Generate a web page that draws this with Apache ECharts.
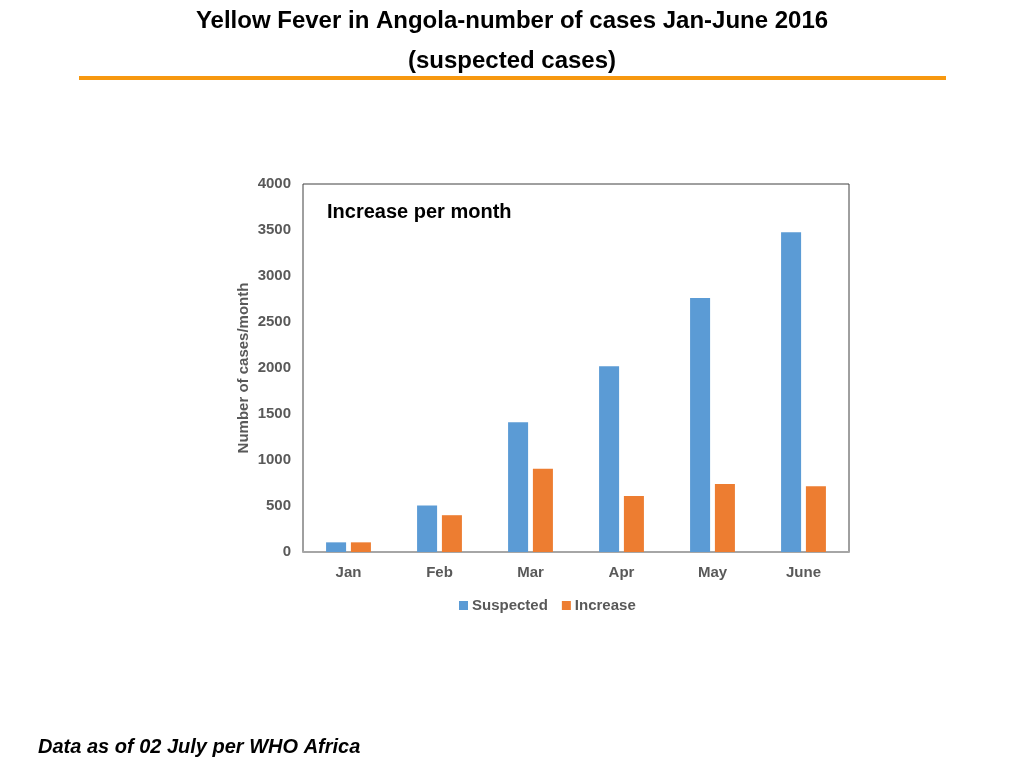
<!DOCTYPE html>
<html>
<head>
<meta charset="utf-8">
<script src="https://cdn.jsdelivr.net/npm/echarts@6/dist/echarts.min.js"></script>
<style>
  html, body { margin: 0; padding: 0; background: #fff; }
  #main { width: 1024px; height: 768px; }
</style>
</head>
<body>
<div id="main"></div>
<script>
// 数据
var months = ['Jan', 'Feb', 'Mar', 'Apr', 'May', 'June'];
var suspected = [105, 505, 1410, 2020, 2760, 3475];
var increase = [105, 400, 905, 610, 740, 715];
var yTicks = [0, 500, 1000, 1500, 2000, 2500, 3000, 3500, 4000];

var myChart = echarts.init(document.getElementById('main'));
var font = 'Liberation Sans, Arial, Helvetica, sans-serif';
var grey = '#595959';

var option = {
    backgroundColor: '#fff',
    animation: false,
    textStyle: { fontFamily: font },
    title: [
        {
            text: 'Yellow Fever in Angola-number of cases Jan-June 2016',
            left: 'center', top: 4,
            textStyle: { fontFamily: font, fontSize: 24, fontWeight: 'bold', color: '#000' }
        },
        {
            text: '(suspected cases)',
            left: 'center', top: 44,
            textStyle: { fontFamily: font, fontSize: 24, fontWeight: 'bold', color: '#000' }
        },
        {
            text: 'Increase per month',
            left: 322, top: 197,
            textStyle: { fontFamily: font, fontSize: 20, fontWeight: 'bold', color: '#000' }
        },
        {
            text: 'Data as of 02 July per WHO Africa',
            left: 33, top: 732,
            textStyle: { fontFamily: font, fontSize: 20, fontWeight: 'bold', fontStyle: 'italic', color: '#000' }
        }
    ],
    graphic: [
        {
            type: 'rect',
            shape: { x: 79, y: 76, width: 867, height: 4 },
            style: { fill: '#F7980F' }
        }
    ],
    legend: {
        data: ['Suspected', 'Increase'],
        left: 454, top: 593,
        itemWidth: 9, itemHeight: 9, itemGap: 14,
        icon: 'rect',
        textStyle: { fontFamily: font, fontSize: 15, fontWeight: 'bold', color: grey, padding: [0, 0, 0, -1] }
    },
    grid: {
        left: 303, right: 175, top: 184, bottom: 216,
        show: true, borderColor: '#404040', borderWidth: 1,
        containLabel: false
    },
    xAxis: {
        type: 'category',
        data: months,
        axisLine: { lineStyle: { color: '#a6a6a6', width: 2 } },
        axisTick: { show: false },
        axisLabel: { margin: 13, fontFamily: font, fontSize: 15, fontWeight: 'bold', color: grey }
    },
    yAxis: {
        type: 'value',
        min: yTicks[0], max: yTicks[yTicks.length - 1], interval: 500,
        name: 'Number of cases/month',
        nameLocation: 'middle', nameGap: 52,
        nameMoveOverlap: false,
        nameTextStyle: { fontFamily: font, fontSize: 15, fontWeight: 'bold', color: grey },
        axisLine: { show: false },
        axisTick: { show: false },
        splitLine: { show: false },
        axisLabel: {
            margin: 12, fontFamily: font, fontSize: 15, fontWeight: 'bold', color: grey,
            formatter: function (v) { return String(v); }
        }
    },
    series: [
        {
            name: 'Suspected', type: 'bar', data: suspected,
            barWidth: '22%', barGap: '24%',
            itemStyle: { color: '#5B9BD5' }
        },
        {
            name: 'Increase', type: 'bar', data: increase,
            barWidth: '22%', barGap: '24%',
            itemStyle: { color: '#ED7D31' }
        }
    ]
};

myChart.setOption(option);
window.onresize = myChart.resize;
</script>
</body>
</html>
